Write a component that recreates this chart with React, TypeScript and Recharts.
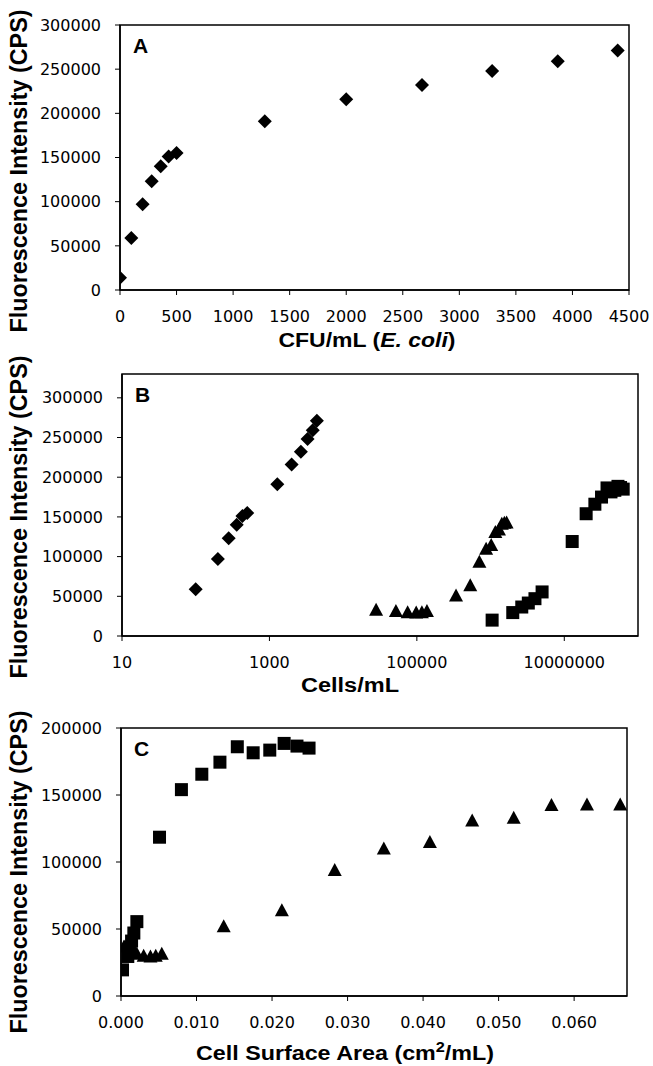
import React from 'react';
import { ScatterChart, Scatter, XAxis, YAxis, ReferenceArea } from 'recharts';

// Panel A: E. coli, CFU/mL vs fluorescence
const ecoliCfu = [0, 100, 200, 280, 360, 430, 500, 1280, 2000, 2670, 3290, 3870, 4400];
const ecoliFluor = [14000, 59000, 97000, 123000, 140000, 151000, 155000, 191000, 216000, 232000, 248000, 259000, 271000];

// Panel B: cells/mL (log) for the three organisms
const triCells = [28000, 52000, 75000, 98000, 117000, 137000, 340000, 530000, 705000, 870000, 1020000, 1160000, 1300000, 1420000, 1540000, 1650000];
const triFluorB = [33000, 31500, 30000, 29500, 30000, 31500, 51000, 64000, 93500, 110000, 114500, 131000, 134000, 141500, 142500, 143000];
const sqCells = [1050000, 2000000, 2650000, 3250000, 4000000, 5000000, 12800000, 19800000, 26000000, 32000000, 38000000, 43000000, 48500000, 53500000, 58000000, 63000000];
const sqFluorB = [20000, 29500, 36500, 41500, 47000, 55500, 119000, 154000, 166000, 175000, 186500, 181500, 183500, 188500, 187000, 185000];

// Panel C: cell surface area (cm2/mL)
const triArea = [0.0004, 0.0021, 0.003, 0.0039, 0.0046, 0.0054, 0.0136, 0.0213, 0.0283, 0.0348, 0.0409, 0.0465, 0.052, 0.057, 0.0617, 0.0661];
const triFluorC = [37000, 31500, 30000, 29500, 30000, 31500, 52000, 64000, 94000, 110000, 115000, 131000, 133000, 142500, 143000, 143000];
const sqArea = [0.0002, 0.0009, 0.0012, 0.0014, 0.0017, 0.0021, 0.0051, 0.008, 0.0107, 0.0131, 0.0154, 0.0175, 0.0197, 0.0216, 0.0233, 0.0249];
const sqFluorC = [19500, 29500, 36500, 41000, 47000, 55500, 118500, 154000, 165500, 174500, 186000, 181500, 183500, 188500, 186500, 185000];

// axis ticks
const xTicksA = [0, 500, 1000, 1500, 2000, 2500, 3000, 3500, 4000, 4500];
const yTicksA = [0, 50000, 100000, 150000, 200000, 250000, 300000];
const xTicksB = [10, 1000, 100000, 10000000];
const yTicksB = [0, 50000, 100000, 150000, 200000, 250000, 300000];
const xTicksC = [0, 0.01, 0.02, 0.03, 0.04, 0.05, 0.06];
const yTicksC = [0, 50000, 100000, 150000, 200000];

const xDomainA = [0, 4500];
const yDomainA = [0, 300000];
const xDomainB = [10, 100000000];
const yDomainB = [0, 330000];
const xDomainC = [0, 0.067];
const yDomainC = [0, 200000];

const pts = (xs: number[], ys: number[]) => xs.map((x, i) => ({ x, y: ys[i] }));

const TICK_FONT = { fill: '#000', fontSize: 16, fontFamily: 'DejaVu Sans, Verdana, sans-serif' };
const TITLE_FONT = 'Liberation Sans, Arial, sans-serif';

const Diamond = (p: any) => (
  <path d={`M${p.cx},${p.cy - 7}L${p.cx + 7},${p.cy}L${p.cx},${p.cy + 7}L${p.cx - 7},${p.cy}Z`} fill="#000" />
);
const Square = (p: any) => <rect x={p.cx - 6.5} y={p.cy - 6.5} width={13} height={13} fill="#000" />;
const Triangle = (p: any) => (
  <path d={`M${p.cx},${p.cy - 7}L${p.cx + 7},${p.cy + 6}L${p.cx - 7},${p.cy + 6}Z`} fill="#000" />
);

interface Series {
  name: string;
  data: { x: number; y: number }[];
  shape: (p: any) => React.ReactElement;
}

interface PanelProps {
  top: number;
  height: number;
  plotHeight: number;
  margin: { top: number; right: number };
  yAxisWidth: number;
  letter: string;
  xDomain: number[];
  yDomain: number[];
  xTicks: number[];
  yTicks: number[];
  logX?: boolean;
  xFormat?: (v: number) => string;
  xTitle: React.ReactNode;
  xTitleX: number;
  xTitleY: number;
  xTitleLen: number;
  yTitleY: number;
  series: Series[];
}

function Panel(props: PanelProps) {
  const { top, height, plotHeight, margin, yAxisWidth, letter, xDomain, yDomain, xTicks, yTicks, logX, xFormat, series } = props;
  return (
    <div style={{ position: 'absolute', left: 0, top, width: 653, height }}>
      <ScatterChart width={653} height={height} margin={{ top: margin.top, right: margin.right, left: 0, bottom: 0 }}>
        <XAxis
          dataKey="x"
          type="number"
          scale={logX ? 'log' : 'linear'}
          domain={xDomain}
          ticks={xTicks}
          interval={0}
          allowDataOverflow
          height={height - margin.top - plotHeight}
          tick={TICK_FONT}
          tickFormatter={xFormat}
          tickSize={5}
          tickMargin={16}
          axisLine={{ stroke: '#000', strokeWidth: 1.5 }}
          tickLine={{ stroke: '#000' }}
          label={() => (
            <text
              x={props.xTitleX}
              y={props.xTitleY}
              textAnchor="middle"
              fontFamily={TITLE_FONT}
              fontWeight="bold"
              fontSize={20}
              textLength={props.xTitleLen}
              lengthAdjust="spacingAndGlyphs"
              fill="#000"
            >
              {props.xTitle}
            </text>
          )}
        />
        <YAxis
          dataKey="y"
          type="number"
          domain={yDomain}
          ticks={yTicks}
          interval={0}
          allowDataOverflow
          width={yAxisWidth}
          tick={TICK_FONT}
          tickSize={5}
          tickMargin={14}
          axisLine={{ stroke: '#000', strokeWidth: 1.5 }}
          tickLine={{ stroke: '#000' }}
          label={() => (
            <text
              x={27}
              y={props.yTitleY}
              transform={`rotate(-90, 27, ${props.yTitleY})`}
              textAnchor="middle"
              fontFamily={TITLE_FONT}
              fontWeight="bold"
              fontSize={23}
              textLength={323}
              lengthAdjust="spacingAndGlyphs"
              fill="#000"
            >
              Fluorescence Intensity (CPS)
            </text>
          )}
        />
        <ReferenceArea
          x1={xDomain[0]}
          x2={xDomain[1]}
          y1={yDomain[0]}
          y2={yDomain[1]}
          fill="none"
          stroke="#000"
          strokeWidth={1.5}
          ifOverflow="visible"
          label={{
            value: letter,
            position: 'insideTopLeft',
            offset: 13,
            fill: '#000',
            fontSize: 21,
            fontWeight: 'bold',
            fontFamily: TITLE_FONT,
          }}
        />
        {series.map((s) => (
          <Scatter key={s.name} name={s.name} data={s.data} shape={s.shape} isAnimationActive={false} />
        ))}
      </ScatterChart>
    </div>
  );
}

export default function App() {
  return (
    <div style={{ position: 'absolute', left: 0, top: 0, width: 653, height: 1066, background: '#fff', overflow: 'hidden' }}>
      <Panel
        top={0}
        height={360}
        plotHeight={265}
        margin={{ top: 25, right: 24 }}
        yAxisWidth={120}
        letter="A"
        xDomain={xDomainA}
        yDomain={yDomainA}
        xTicks={xTicksA}
        yTicks={yTicksA}
        xTitle={
          <>
            CFU/mL (<tspan fontStyle="italic">E. coli</tspan>)
          </>
        }
        xTitleX={367}
        xTitleY={347}
        xTitleLen={177}
        yTitleY={171}
        series={[{ name: 'E. coli', data: pts(ecoliCfu, ecoliFluor), shape: Diamond }]}
      />
      <Panel
        top={340}
        height={365}
        plotHeight={262}
        margin={{ top: 34, right: 15 }}
        yAxisWidth={122}
        letter="B"
        xDomain={xDomainB}
        yDomain={yDomainB}
        xTicks={xTicksB}
        yTicks={yTicksB}
        logX
        xFormat={(v) => String(v)}
        xTitle="Cells/mL"
        xTitleX={350}
        xTitleY={352}
        xTitleLen={98}
        yTitleY={177}
        series={[
          { name: 'E. coli', data: pts(ecoliCfu.slice(1), ecoliFluor.slice(1)), shape: Diamond },
          { name: 'triangles', data: pts(triCells, triFluorB), shape: Triangle },
          { name: 'squares', data: pts(sqCells, sqFluorB), shape: Square },
        ]}
      />
      <Panel
        top={700}
        height={366}
        plotHeight={268}
        margin={{ top: 28, right: 26 }}
        yAxisWidth={121}
        letter="C"
        xDomain={xDomainC}
        yDomain={yDomainC}
        xTicks={xTicksC}
        yTicks={yTicksC}
        xFormat={(v) => v.toFixed(3)}
        xTitle={
          <>
            Cell Surface Area (cm<tspan dy={-8} fontSize={14}>2</tspan>
            <tspan dy={8}>/mL)</tspan>
          </>
        }
        xTitleX={345}
        xTitleY={360}
        xTitleLen={298}
        yTitleY={172}
        series={[
          { name: 'squares', data: pts(sqArea, sqFluorC), shape: Square },
          { name: 'triangles', data: pts(triArea, triFluorC), shape: Triangle },
        ]}
      />
    </div>
  );
}
